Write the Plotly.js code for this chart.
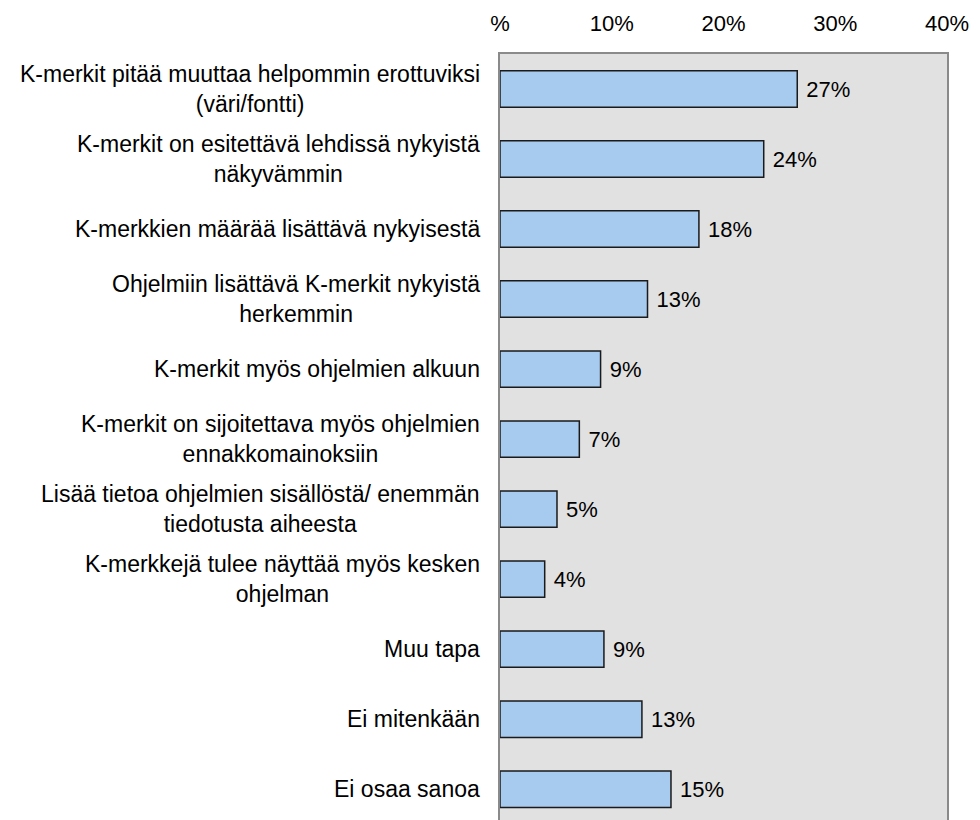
<!DOCTYPE html>
<html>
<head>
<meta charset="utf-8">
<script src="https://cdn.plot.ly/plotly-3.0.1.min.js"></script>
<style>html,body{margin:0;padding:0;background:#fff;}</style>
</head>
<body>
<div id="chart" style="width:980px;height:820px;"></div>
<script>
const categories = [
  "K-merkit pitää muuttaa helpommin erottuviksi<br>(väri/fontti)",
  "K-merkit on esitettävä lehdissä nykyistä<br>näkyvämmin",
  "K-merkkien määrää lisättävä nykyisestä",
  "Ohjelmiin lisättävä K-merkit nykyistä<br>herkemmin",
  "K-merkit myös ohjelmien alkuun",
  "K-merkit on sijoitettava myös ohjelmien<br>ennakkomainoksiin",
  "Lisää tietoa ohjelmien sisällöstä/ enemmän<br>tiedotusta aiheesta",
  "K-merkkejä tulee näyttää myös kesken<br>ohjelman",
  "Muu tapa",
  "Ei mitenkään",
  "Ei osaa sanoa"
];
const values = [26.6, 23.6, 17.8, 13.2, 9.0, 7.1, 5.1, 4.0, 9.3, 12.7, 15.3];
const tickValues = [0, 10, 20, 30, 40];
const tickLabels = ["%", "10%", "20%", "30%", "40%"];

const FONT = "Liberation Sans, Arial, sans-serif";

const trace = {
  type: "bar",
  orientation: "h",
  y: categories,
  x: values,
  marker: {color: "#a7caef", line: {color: "#1a1a1a", width: 1.5}},
  texttemplate: " %{x:.0f}%",
  textposition: "outside",
  constraintext: "none",
  cliponaxis: false,
  textfont: {family: FONT, size: 22, color: "#000"},
  hoverinfo: "skip"
};

const annotations = categories.map(c => ({
  xref: "paper", yref: "y",
  x: 0, y: c,
  xanchor: "right", yanchor: "middle",
  xshift: -18,
  align: "center",
  showarrow: false,
  text: c,
  font: {family: FONT, size: 23, color: "#000"}
}));

const layout = {
  width: 980, height: 820,
  margin: {l: 500, r: 33, t: 54, b: 0, pad: 0},
  paper_bgcolor: "#ffffff",
  plot_bgcolor: "#e1e1e1",
  font: {family: FONT, size: 22, color: "#000"},
  showlegend: false,
  bargap: 0.48,
  xaxis: {
    side: "top",
    range: [0, 40],
    tickvals: tickValues,
    ticktext: tickLabels,
    ticks: "",
    showgrid: false,
    zeroline: false,
    showline: true,
    linecolor: "#8a8a8a",
    linewidth: 2,
    ticklabelstandoff: 12,
    tickfont: {family: FONT, size: 22, color: "#000"}
  },
  yaxis: {
    type: "category",
    range: [10.44, -0.5],
    showticklabels: false,
    ticks: "",
    showgrid: false,
    zeroline: false,
    showline: true,
    mirror: true,
    linecolor: "#8a8a8a",
    linewidth: 2
  },
  annotations: annotations
};

Plotly.newPlot("chart", [trace], layout, {displayModeBar: false, staticPlot: true});
</script>
</body>
</html>
